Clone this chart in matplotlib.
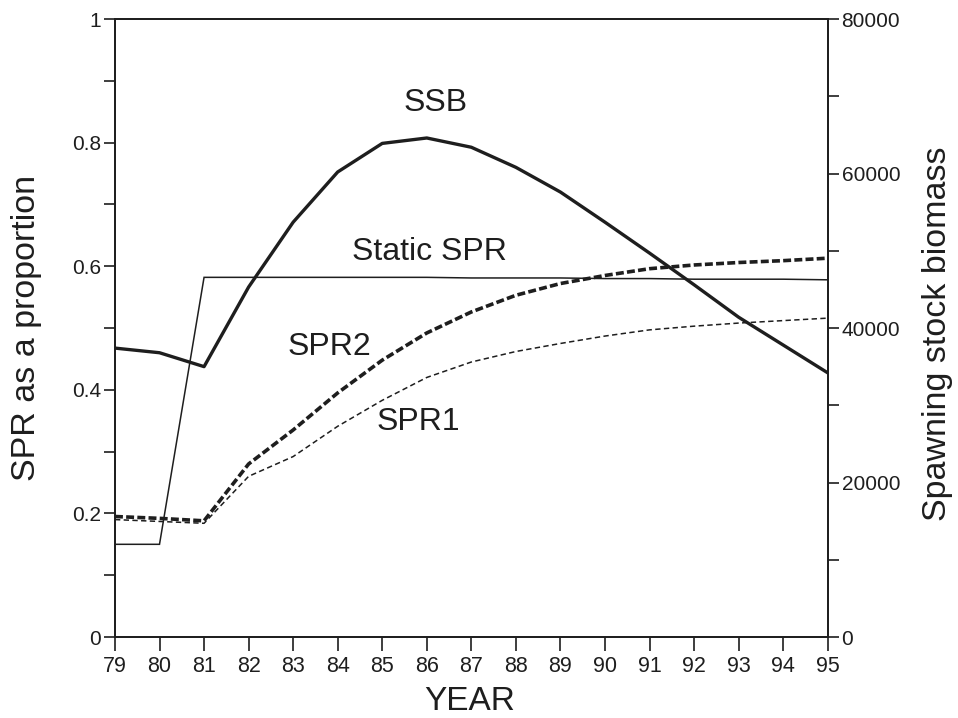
import matplotlib
matplotlib.use('Agg')
import matplotlib.pyplot as plt
import numpy as np

plt.rcParams['font.family'] = ['Liberation Sans', 'DejaVu Sans']

## Data
years = [79, 80, 81, 82, 83, 84, 85, 86, 87, 88, 89, 90, 91, 92, 93, 94, 95]
static_spr = [0.15, 0.15, 0.582, 0.582, 0.582, 0.582, 0.582, 0.582, 0.581, 0.581, 0.581, 0.580, 0.580, 0.579, 0.579, 0.579, 0.578]
spr2 = [0.195, 0.192, 0.188, 0.280, 0.335, 0.395, 0.448, 0.492, 0.526, 0.553, 0.572, 0.585, 0.596, 0.602, 0.606, 0.609, 0.613]
spr1 = [0.190, 0.187, 0.184, 0.260, 0.292, 0.341, 0.383, 0.420, 0.445, 0.462, 0.475, 0.487, 0.497, 0.503, 0.508, 0.512, 0.516]
ssb = [37400, 36800, 35000, 45300, 53700, 60200, 63900, 64600, 63400, 60800, 57600, 53700, 49700, 45600, 41400, 37800, 34200]

# curve labels: (text, x in years, y on SPR scale)
labels = [('SSB', 86.2, 0.864), ('Static SPR', 86.07, 0.623), ('SPR2', 83.82, 0.469), ('SPR1', 85.8, 0.348)]

ink = '#1e1e1e'

fig = plt.figure(figsize=(9.58, 7.18), dpi=100)
ax = fig.add_axes([0.120, 0.1128, 0.744, 0.8607])
ax2 = ax.twinx()

ax.plot(years, static_spr, color=ink, lw=1.1, solid_joinstyle='miter')
ax.plot(years, spr2, color=ink, lw=2.6, dashes=(2.2, 0.9))
ax.plot(years, spr1, color=ink, lw=1.1, dashes=(3.5, 2.2))
ax2.plot(years, ssb, color=ink, lw=2.4)

ax.set_xlim(79, 95)
ax.set_ylim(0, 1)
ax2.set_ylim(0, 80000)

ax.set_xticks(years)
ax.set_xticklabels([str(y) for y in years])
ax.set_yticks([0, 0.2, 0.4, 0.6, 0.8, 1])
ax.set_yticklabels(['0', '0.2', '0.4', '0.6', '0.8', '1'])
ax.set_yticks(np.arange(0.1, 1.0, 0.2), minor=True)
ax2.set_yticks([0, 20000, 40000, 60000, 80000])
ax2.set_yticks([10000, 30000, 50000, 70000], minor=True)

for a in (ax, ax2):
    for s in a.spines.values():
        s.set_linewidth(1.3)
        s.set_color(ink)
ax.tick_params(axis='x', direction='out', length=10, width=1.2, pad=4, labelsize=15.5, colors=ink)
ax.tick_params(axis='y', which='both', direction='out', length=8, width=1.2, pad=2, labelsize=15, colors=ink)
ax2.tick_params(axis='y', which='both', direction='out', length=8, width=1.2, pad=2, labelsize=15, colors=ink)

ax.set_xlabel('YEAR', fontsize=24, color=ink, va='center')
ax.xaxis.set_label_coords(0.498, -0.105)
ax.set_ylabel('SPR as a proportion', fontsize=24.5, color=ink, va='center')
ax.yaxis.set_label_coords(-0.1248, 0.5)
ax2.set_ylabel('Spawning stock biomass', fontsize=24.5, color=ink, rotation=90, va='center')
ax2.yaxis.set_label_coords(1.154, 0.49)

for txt, lx, ly in labels:
    ax.text(lx, ly, txt, fontsize=23, color=ink, ha='center', va='center')

plt.savefig('out.png', dpi=100)
